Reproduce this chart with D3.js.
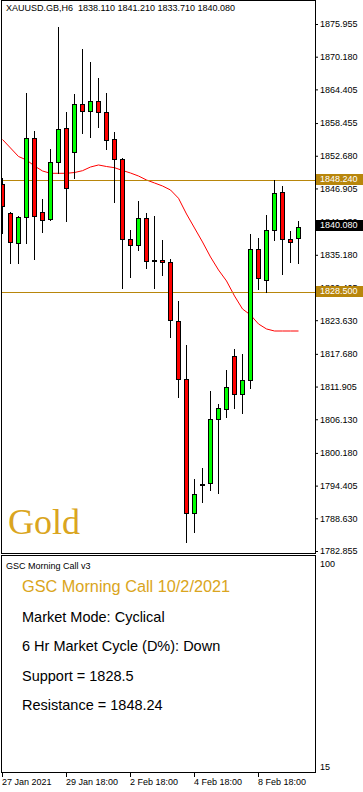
<!DOCTYPE html>
<html>
<head>
<meta charset="utf-8">
<script src="https://cdn.jsdelivr.net/npm/d3@7"></script>
<style>
  body { margin: 0; background: #fff; }
  svg { display: block; font-family: "Liberation Sans", Arial, sans-serif; }
</style>
</head>
<body>
<svg id="grafica" width="363" height="792"></svg>
<script>
var symbol = "XAUUSD.GB,H6"

var opens  = [1847.52, 1842.52, 1837.09, 1841.81, 1855.76, 1842.57, 1841.33, 1851.52, 1857.53, 1853.29,
              1861.65, 1860.46, 1862.35, 1860.36, 1855.59, 1851.93, 1837.80, 1836.79, 1841.63, 1834.15,
              1834.21, 1833.86, 1823.44, 1813.07, 1789.52, 1794.62, 1794.82, 1806.13, 1807.90, 1817.25,
              1810.54, 1812.89, 1836.16, 1830.68, 1839.51, 1846.23, 1837.92, 1838.11]
var highs  = [1848.75, 1842.74, 1842.04, 1863.77, 1857.05, 1845.04, 1853.82, 1875.42, 1860.46, 1863.59,
              1871.54, 1869.19, 1866.36, 1863.77, 1856.82, 1852.23, 1839.56, 1844.69, 1842.62, 1842.04,
              1837.80, 1834.44, 1827.02, 1819.25, 1795.58, 1797.58, 1811.12, 1808.83, 1814.83, 1818.54,
              1817.66, 1838.86, 1838.21, 1842.21, 1848.40, 1847.34, 1839.39, 1841.21]
var lows   = [1839.03, 1833.74, 1833.74, 1837.22, 1834.44, 1839.27, 1841.33, 1849.58, 1841.21, 1848.80,
              1856.65, 1856.05, 1857.81, 1853.82, 1844.57, 1829.32, 1831.32, 1836.03, 1832.91, 1829.27,
              1831.62, 1820.61, 1810.01, 1784.50, 1786.27, 1791.57, 1793.64, 1793.06, 1806.58, 1808.07,
              1807.29, 1811.60, 1829.20, 1828.56, 1837.80, 1831.74, 1833.97, 1833.71]
var closes = [1843.68, 1837.32, 1841.81, 1855.76, 1841.92, 1841.21, 1851.52, 1857.35, 1846.93, 1861.65,
              1860.46, 1862.35, 1860.36, 1855.34, 1852.05, 1837.92, 1836.79, 1841.63, 1833.97, 1834.05,
              1833.86, 1823.55, 1813.07, 1789.52, 1792.88, 1794.52, 1806.13, 1807.95, 1811.78, 1810.54,
              1812.89, 1836.16, 1831.03, 1839.51, 1846.05, 1837.92, 1837.32, 1840.08]
var maValues = [1855.55, 1854.05, 1852.55, 1851.93, 1850.87, 1849.99, 1849.58, 1849.58, 1849.58, 1849.72,
                1850.04, 1850.69, 1851.05, 1850.78, 1850.57, 1850.08, 1849.63, 1849.10, 1848.40, 1847.87,
                1847.34, 1846.63, 1845.17, 1842.39, 1839.92, 1837.45, 1834.80, 1832.50, 1830.56, 1827.91,
                1825.61, 1824.55, 1822.96, 1822.08, 1821.72, 1821.72, 1821.72, 1821.72]

var priceTicks = [1875.955, 1870.180, 1864.405, 1858.455, 1852.680, 1846.905, 1841.130, 1835.180, 1829.405,
                  1823.630, 1817.680, 1811.905, 1806.130, 1800.180, 1794.405, 1788.630, 1782.855]
var timeTickIdx = [0, 8, 16, 24, 32]
var timeLabels = ["27 Jan 2021", "29 Jan 18:00", "2 Feb 18:00", "4 Feb 18:00", "8 Feb 18:00"]

var resistance = 1848.24
var support = 1828.5
var subScale = ["100", "15"]
var infoTitle = "GSC Morning Call 10/2/2021"
var infoLines = ["Market Mode: Cyclical", "6 Hr Market Cycle (D%): Down",
                 "Support = " + support, "Resistance = " + resistance]

var gold = "#DAA520", lineGold = "#B8860B"

var data = opens.map((o, i) => ({i: i, o: o, h: highs[i], l: lows[i], c: closes[i], ma: maValues[i]}))

var svg = d3.select("#grafica")
var frame = {left: 1, right: 315, top: 0, bottom: 553, subTop: 555, subBottom: 772}

var y = d3.scaleLinear().domain([1782.855, 1875.955]).range([551, 24])
var x = d3.scaleLinear().domain([0, data.length - 1]).range([2.5, 298.5])
var px = v => Math.round(v - 0.5) + 0.5

svg.append("rect").attr("width", 363).attr("height", 792).attr("fill", "#fff")

svg.append("clipPath").attr("id", "plot")
  .append("rect").attr("x", frame.left + 1).attr("y", frame.top + 1)
  .attr("width", frame.right - frame.left - 1).attr("height", frame.bottom - frame.top - 1)

// price axis
var yAxis = svg.append("g")
  .attr("transform", `translate(${frame.right},0)`)
  .call(d3.axisRight(y).tickValues(priceTicks).tickSize(3).tickPadding(2)
    .tickFormat(d3.format(".3f")))
yAxis.select(".domain").remove()
yAxis.selectAll("text").attr("font-size", 9).attr("font-family", null).attr("fill", "#000")
yAxis.selectAll("line").attr("stroke", "#000")

var plot = svg.append("g").attr("clip-path", "url(#plot)")

// moving average
plot.append("path")
  .datum(data)
  .attr("fill", "none")
  .attr("stroke", "#FF0000")
  .attr("stroke-width", 1)
  .attr("d", d3.line().x(d => x(d.i)).y(d => y(d.ma)))

// support / resistance
plot.selectAll(".level")
  .data([resistance, support])
  .enter().append("line")
  .attr("class", "level")
  .attr("x1", frame.left).attr("x2", frame.right)
  .attr("y1", d => px(y(d))).attr("y2", d => px(y(d)))
  .attr("stroke", lineGold).attr("stroke-width", 1)

// candles
var candle = plot.selectAll(".candle")
  .data(data)
  .enter().append("g")
  .attr("class", "candle")

candle.append("line")
  .attr("x1", d => px(x(d.i))).attr("x2", d => px(x(d.i)))
  .attr("y1", d => Math.round(y(d.h))).attr("y2", d => Math.round(y(d.l)) + 1)
  .attr("stroke", "#000").attr("stroke-width", 1)

candle.append("rect")
  .attr("x", d => px(x(d.i)) - 2)
  .attr("y", d => px(y(Math.max(d.o, d.c))))
  .attr("width", 4)
  .attr("height", d => Math.max(1, px(y(Math.min(d.o, d.c))) - px(y(Math.max(d.o, d.c)))))
  .attr("fill", d => d.c >= d.o ? "#00FF00" : "#FF0000")
  .attr("stroke", "#000").attr("stroke-width", 1)

svg.append("text")
  .attr("x", 8).attr("y", 533.5)
  .style("font-family", "'Liberation Serif', 'Times New Roman', serif")
  .attr("font-size", 36)
  .attr("fill", gold)
  .text("Gold")

// price boxes on the axis
var last = data[data.length - 1]
var boxes = [
  {v: resistance, fill: lineGold},
  {v: support, fill: lineGold},
  {v: last.c, fill: "#000"}
]
var box = svg.selectAll(".pbox")
  .data(boxes)
  .enter().append("g")
  .attr("class", "pbox")
box.append("rect")
  .attr("x", frame.right + 1).attr("y", d => Math.round(y(d.v)) - 7)
  .attr("width", 363 - frame.right - 1).attr("height", 11)
  .attr("fill", d => d.fill)
box.append("text")
  .attr("x", 320).attr("y", d => Math.round(y(d.v)) - 1.5)
  .attr("dy", "0.32em")
  .attr("font-size", 9).attr("fill", "#fff")
  .text(d => d3.format(".3f")(d.v))

// frames
svg.append("rect")
  .attr("x", frame.left + 0.5).attr("y", frame.top + 0.5)
  .attr("width", frame.right - frame.left).attr("height", frame.bottom - frame.top)
  .attr("fill", "none").attr("stroke", "#000")
svg.append("rect")
  .attr("x", frame.left + 0.5).attr("y", frame.subTop + 0.5)
  .attr("width", frame.right - frame.left).attr("height", frame.subBottom - frame.subTop)
  .attr("fill", "none").attr("stroke", "#000")

svg.append("text")
  .attr("x", 6).attr("y", 8.5).attr("dy", "0.32em")
  .attr("font-size", 9).attr("fill", "#000")
  .style("white-space", "pre")
  .text(symbol + "  " + [last.o, last.h, last.l, last.c].map(d3.format(".3f")).join(" "))

// sub window
svg.append("text")
  .attr("x", 6).attr("y", 566).attr("dy", "0.32em")
  .attr("font-size", 9).attr("fill", "#000")
  .text("GSC Morning Call v3")

svg.selectAll(".subscale")
  .data(subScale)
  .enter().append("text")
  .attr("class", "subscale")
  .attr("x", 320).attr("y", (d, i) => i == 0 ? 564 : 767).attr("dy", "0.32em")
  .attr("font-size", 9).attr("fill", "#000")
  .text(d => d)

svg.append("text")
  .attr("x", 22).attr("y", 592)
  .attr("font-size", 16.3).attr("fill", gold)
  .text(infoTitle)

svg.selectAll(".info")
  .data(infoLines)
  .enter().append("text")
  .attr("class", "info")
  .attr("x", 22).attr("y", (d, i) => 621.5 + i * 29.6)
  .attr("font-size", 14.5).attr("fill", "#000")
  .text(d => d)

// time axis
var tAxis = svg.append("g")
tAxis.selectAll("line")
  .data(timeTickIdx)
  .enter().append("line")
  .attr("x1", d => px(x(d))).attr("x2", d => px(x(d)))
  .attr("y1", frame.subBottom + 1).attr("y2", frame.subBottom + 5)
  .attr("stroke", "#000")
tAxis.selectAll("text")
  .data(timeTickIdx)
  .enter().append("text")
  .attr("x", d => px(x(d)) - 0.5).attr("y", 782.5).attr("dy", "0.32em")
  .attr("font-size", 9).attr("fill", "#000")
  .text((d, i) => timeLabels[i])
</script>
</body>
</html>
